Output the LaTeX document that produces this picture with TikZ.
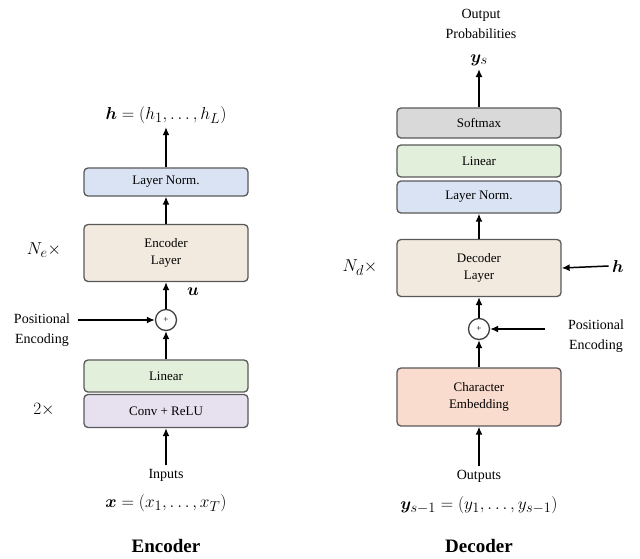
\documentclass[tikz,border=0pt]{standalone}
\usepackage{fontspec}
\setmainfont{Liberation Serif}
\usepackage{amsmath,bm}
\usetikzlibrary{arrows.meta}
\definecolor{cblue}{HTML}{DAE3F3}
\definecolor{cbeige}{HTML}{F3EADF}
\definecolor{cgreen}{HTML}{E2EFDA}
\definecolor{clav}{HTML}{E6E0EF}
\definecolor{cgray}{HTML}{D9D9D9}
\definecolor{cpeach}{HTML}{FADCCF}
\begin{document}
\begin{tikzpicture}[x=1pt,y=-1pt,
  blk/.style={draw=black!65,line width=1.3pt,rounded corners=4pt,minimum width=164pt,inner sep=0pt,align=center,font=\fontsize{13}{15}\selectfont},
  arr/.style={-{Latex[length=8pt,width=7pt]},line width=1.5pt},
  plus/.style={draw=black!75,line width=1.3pt,circle,minimum size=21pt,inner sep=0pt,font=\small},
  lab/.style={font=\fontsize{14}{16}\selectfont,align=center},
  mth/.style={font=\fontsize{19}{22}\selectfont}]
\useasboundingbox (0,0) rectangle (640,558);
% Encoder
\node[blk,fill=cblue,minimum height=28pt] (eln) at (166,182) {Layer Norm.};
\node[blk,fill=cbeige,minimum height=57pt] (el) at (166,253) {Encoder\\[2pt]Layer};
\node[plus] (ep) at (166,320) {+};
\node[blk,fill=cgreen,minimum height=32pt] (elin) at (166,376) {Linear};
\node[blk,fill=clav,minimum height=33pt] (conv) at (166,411) {Conv + ReLU};
\node[lab] (ein) at (166,475) {Inputs};
\node[mth] (ex) at (166,503) {$\bm{x}=(x_1,\ldots,x_T)$};
\node[font=\bfseries\fontsize{19}{22}\selectfont] (etit) at (166,546) {Encoder};
\node[mth] (eh) at (166,115) {$\bm{h}=(h_1,\ldots,h_L)$};
\node[mth] (ne) at (44,250) {$N_e\times$};
\node[mth] (two) at (44,410) {$2\times$};
\node[lab] (epos) at (42,330) {Positional\\[4pt]Encoding};
\node[mth] (eu) at (193,292) {$\bm{u}$};
\coordinate (eposr) at (78,320);
\draw[arr] (ein.north) -- (conv.south);
\draw[arr] (elin.north) -- (ep.south);
\draw[arr] (ep.north) -- (el.south);
\draw[arr] (el.north) -- (eln.south);
\draw[arr] (eln.north) -- (eh.south);
\draw[arr] (eposr) -- (ep.west);
% Decoder
\node[blk,fill=cgray,minimum height=30pt] (sm) at (479,123) {Softmax};
\node[blk,fill=cgreen,minimum height=32pt] (dlin) at (479,161) {Linear};
\node[blk,fill=cblue,minimum height=32pt] (dln) at (479,197) {Layer Norm.};
\node[blk,fill=cbeige,minimum height=57pt] (dl) at (479,268) {Decoder\\[2pt]Layer};
\node[plus] (dp) at (479,329) {+};
\node[blk,fill=cpeach,minimum height=58pt] (ce) at (479,397) {Character\\[2pt]Embedding};
\node[lab] (dout) at (479,476) {Outputs};
\node[mth] (dy) at (479,505) {$\bm{y}_{s-1}=(y_1,\ldots,y_{s-1})$};
\node[font=\bfseries\fontsize{19}{22}\selectfont] (dtit) at (479,546) {Decoder};
\node[lab] (dprob) at (481,24) {Output\\[4pt]Probabilities};
\node[mth] (dys) at (479,60) {$\bm{y}_s$};
\node[mth] (nd) at (360,268) {$N_d\times$};
\node[lab] (dpos) at (596,336) {Positional\\[4pt]Encoding};
\node[mth] (dh) at (618,266) {$\bm{h}$};
\coordinate (dposl) at (545,329);
\draw[arr] (dout.north) -- (ce.south);
\draw[arr] (ce.north) -- (dp.south);
\draw[arr] (dp.north) -- (dl.south);
\draw[arr] (dl.north) -- (dln.south);
\draw[arr] (sm.north) -- (dys.south);
\draw[arr] (dposl) -- (dp.east);
\draw[arr] (dh.west) -- (dl.east);
\end{tikzpicture}
\end{document}
